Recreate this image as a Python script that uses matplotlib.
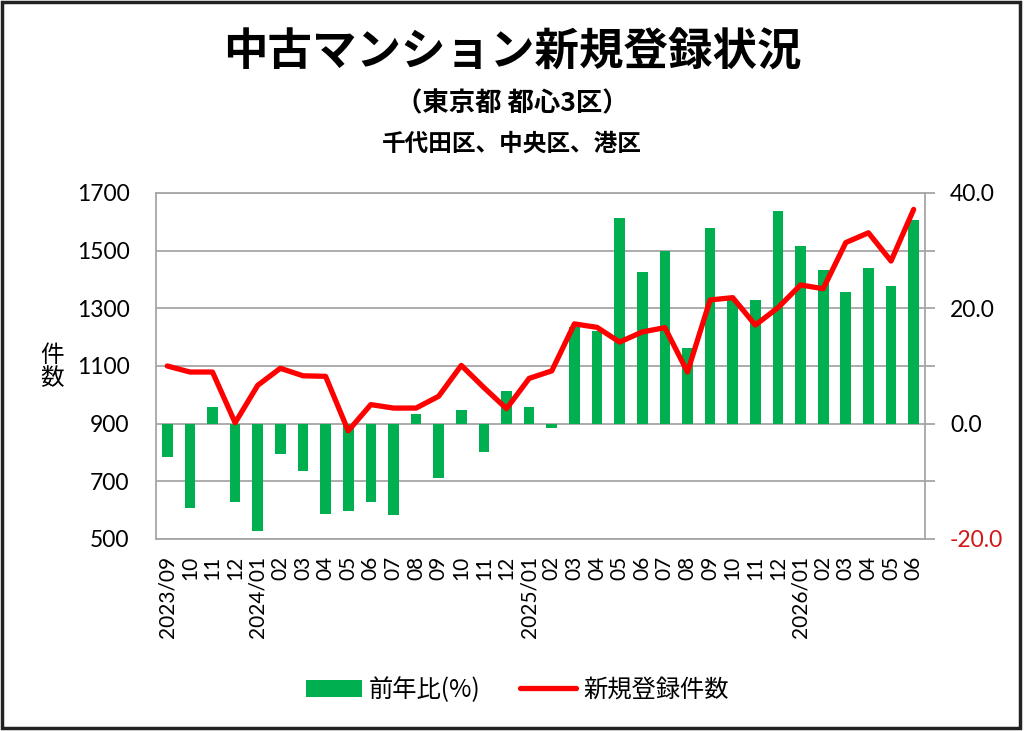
import numpy as np
import matplotlib.pyplot as plt
from matplotlib.patches import Rectangle
from matplotlib.ticker import MultipleLocator

plt.rcParams['font.family'] = ['Noto Sans CJK JP', 'DejaVu Sans']

# months (Excel style: year shown only at the start / January)
labels = ['2023/09', '10', '11', '12',
          '2024/01', '02', '03', '04', '05', '06', '07', '08', '09', '10', '11', '12',
          '2025/01', '02', '03', '04', '05', '06', '07', '08', '09', '10', '11', '12',
          '2026/01', '02', '03', '04', '05', '06']

# 前年比 (%)  -> right axis
yoy = [-5.8, -14.7, 2.8, -13.6,
       -18.7, -5.2, -8.3, -15.7, -15.2, -13.6, -15.9, 1.7, -9.5, 2.4, -5.0, 5.7,
       2.8, -0.8, 16.7, 16.1, 35.7, 26.3, 29.9, 13.2, 33.9, 21.5, 21.4, 36.9,
       30.8, 26.6, 22.8, 27.0, 23.9, 35.4]

# 新規登録件数 -> left axis
counts = [1100, 1079, 1079, 903,
          1033, 1092, 1066, 1064, 875, 966, 954, 954, 995, 1102, 1025, 952,
          1057, 1083, 1246, 1234, 1183, 1218, 1233, 1079, 1329, 1337, 1242, 1302,
          1381, 1368, 1528, 1562, 1464, 1643]

pct_ticks = [-20, 0, 20, 40]
pct_labels = ['-20.0', '0.0', '20.0', '40.0']

grid_col = '#a6a6a6'
x = np.arange(len(labels))

fig = plt.figure(figsize=(10.24, 7.31), dpi=100)
ax = fig.add_axes([0.1523, 0.2627, 0.751, 0.4733])
ax2 = ax.twinx()

# bars on the lower axes so the grid sits behind them and the line on top
bars = ax.bar(x, yoy, width=0.47, color='#00B050', zorder=2)
ax.set_xlim(-0.5, len(labels) - 0.5)
ax.set_ylim(-20, 40)
ax.set_yticks(pct_ticks)
ax.set_yticklabels(pct_labels)
ax.yaxis.set_minor_locator(MultipleLocator(10))
ax.yaxis.tick_right()
ax.grid(axis='y', which='both', color=grid_col, lw=1.3)
ax.set_axisbelow(True)
ax.tick_params(axis='y', which='both', direction='out', length=7, width=1.3,
               color=grid_col, labelsize=16.5, pad=11)
for tk in ax.yaxis.get_major_ticks():
    tk.label2.set_fontfamily('Lato')
ax.yaxis.get_major_ticks()[0].label2.set_color('#D01818')

ax.set_xticks(x)
ax.set_xticklabels(labels, rotation=90, fontsize=15, fontfamily='Lato')
ax.tick_params(axis='x', length=0, pad=12)
for s in ax.spines.values():
    s.set_color(grid_col)
    s.set_linewidth(1.3)

line, = ax2.plot(x, counts, color='#FF0000', lw=3.8, solid_capstyle='round')
ax2.set_ylim(500, 1700)
ax2.set_yticks(np.arange(500, 1701, 200))
ax2.yaxis.tick_left()
ax2.tick_params(axis='y', length=0, labelsize=16.5, pad=19)
for tk in ax2.yaxis.get_major_ticks():
    tk.label1.set_fontfamily('Lato')
for s in ax2.spines.values():
    s.set_visible(False)

# titles
fig.text(0.5, 1 - 53 / 731, '中古マンション新規登録状況', ha='center', va='center',
         fontsize=32, fontweight='bold')
fig.text(0.5, 1 - 104 / 731, '（東京都 都心3区）', ha='center', va='center',
         fontsize=19, fontweight='bold')
fig.text(0.5, 1 - 144 / 731, '千代田区、中央区、港区', ha='center', va='center',
         fontsize=17, fontweight='bold')
fig.text(52 / 1024, 1 - 367 / 731, '件\n数', ha='center', va='center',
         fontsize=17, linespacing=1.05)

fig.legend([bars, line], ['前年比(%)', '新規登録件数'], loc='center',
           bbox_to_anchor=(0.505, 1 - 690 / 731), ncol=2, frameon=False,
           fontsize=17.5, handlelength=2.3, handleheight=0.7,
           columnspacing=1.6, handletextpad=0.3)

# outer frame
fig.patches.append(Rectangle((0.002, 0.004), 0.994, 0.993, transform=fig.transFigure,
                             fill=False, ec='#222222', lw=2.5))

fig.savefig('out.png', dpi=100)
